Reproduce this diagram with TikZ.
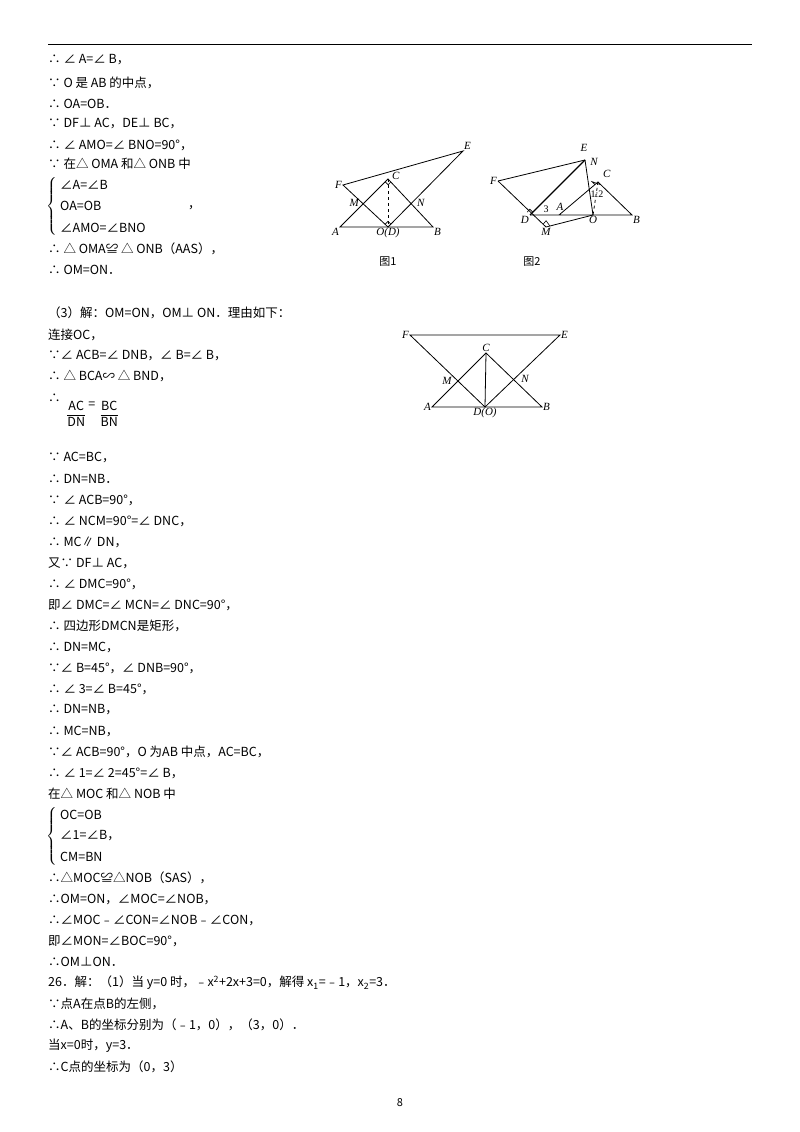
\documentclass[tikz,border=0pt]{standalone}
\usepackage{amsmath}
\usepackage{fontspec}
\setmainfont{Noto Sans CJK SC}
\newfontfamily\lat{Liberation Serif}
\usetikzlibrary{calc}
\begin{document}
\begin{tikzpicture}[x=1pt,y=-1pt,
 t/.style={anchor=west,inner sep=0pt,font=\fontsize{12.5}{14}\selectfont},
 g/.style={line width=0.8pt},
 lb/.style={inner sep=1pt,font=\lat\itshape\fontsize{11}{12}\selectfont},
 captxt/.style={inner sep=0pt,font=\fontsize{11}{12}\selectfont}]
\useasboundingbox (0,0) rectangle (800,1132);
\draw[line width=1pt] (48,45) -- (752,45);
% text lines
\foreach \y/\s in {60/{∴ ∠ A=∠ B，},83/{∵ O 是 AB 的中点，},104/{∴ OA=OB．},124/{∵ DF⊥ AC，DE⊥ BC，},145/{∴ ∠ AMO=∠ BNO=90°，},164/{∵ 在△ OMA 和△ ONB 中},249/{∴ △ OMA≌ △ ONB（AAS），},270/{∴ OM=ON．},
313/{（3）解：OM=ON，OM⊥ ON．理由如下：},335/{连接OC，},356/{∵∠ ACB=∠ DNB，∠ B=∠ B，},376/{∴ △ BCA∽ △ BND，},398/{∴},458/{∵ AC=BC，},479/{∴ DN=NB．},500/{∵ ∠ ACB=90°，},521/{∴ ∠ NCM=90°=∠ DNC，},542/{∴ MC∥ DN，},563/{又∵ DF⊥ AC，},584/{∴ ∠ DMC=90°，},605/{即∠ DMC=∠ MCN=∠ DNC=90°，},626/{∴ 四边形DMCN是矩形，},647/{∴ DN=MC，},668/{∵∠ B=45°，∠ DNB=90°，},689/{∴ ∠ 3=∠ B=45°，},710/{∴ DN=NB，},731/{∴ MC=NB，},752/{∵∠ ACB=90°，O 为AB 中点，AC=BC，},773/{∴ ∠ 1=∠ 2=45°=∠ B，},794/{在△ MOC 和△ NOB 中},878/{∴△MOC≌△NOB（SAS），},899/{∴OM=ON，∠MOC=∠NOB，},920/{∴∠MOC﹣∠CON=∠NOB﹣∠CON，},941/{即∠MON=∠BOC=90°，},962/{∴OM⊥ON．},1004/{∵点A在点B的左侧，},1025/{∴A、B的坐标分别为（﹣1，0），（3，0）．},1046/{当x=0时，y=3．},1067/{∴C点的坐标为（0，3）}}
 \node[t] (l\y) at (48,\y) {\s};
\node[t] (l983) at (48,983) {26．解：（1）当 y=0 时，﹣x\textsuperscript{2}+2x+3=0，解得 x\textsubscript{1}=﹣1，x\textsubscript{2}=3．};
% brace systems
\node[t] (b1) at (46,206) {$\left\{\vphantom{\rule{0pt}{32pt}}\right.$};
\node[t] (b1a) at (60,185) {∠A=∠B};
\node[t] (b1b) at (60,206) {OA=OB};
\node[t] (b1c) at (60,228) {∠AMO=∠BNO};
\node[t] (b1d) at (188,208) {，};
\node[t] (b2) at (46,836) {$\left\{\vphantom{\rule{0pt}{32pt}}\right.$};
\node[t] (b2a) at (60,815) {OC=OB};
\node[t] (b2b) at (60,836) {∠1=∠B，};
\node[t] (b2c) at (60,857) {CM=BN};
% fraction
\node[t] (fr) at (66,414) {$\dfrac{\mathrm{AC}}{\mathrm{DN}}\raisebox{10pt}{\,=\,\,}\dfrac{\mathrm{BC}}{\mathrm{BN}}$};
\node[captxt] (pg) at (400,1103) {8};
% figure 1
\coordinate (A) at (340,227); \coordinate (B) at (433,227); \coordinate (O) at (388,227);
\coordinate (C) at (388,179); \coordinate (F) at (343,185); \coordinate (E) at (463,151);
\draw[g] (A)--(B)--(C)--cycle; \draw[g] (F)--(E)--(O)--cycle;
\draw[g,dashed] (C)--(O);
\draw[line width=0.6pt] ($(C)!4pt!(A)$)--++(3,3)--($(C)!4pt!(B)$);
\draw[line width=0.6pt] ($(O)!4pt!(F)$)--++(3,-3)--($(O)!4pt!(E)$);
\node[lb,left] (lF) at (F) {F}; \node[lb,above right] (lE) at (E) {E};
\node[lb,right] (lC) at (391,176) {C}; \node[lb,left] (lM) at (360,203) {M};
\node[lb,right] (lN) at (416,203) {N}; \node[lb,below left] (lA) at (A) {A};
\node[lb,below] (lO) at (O) {O(D)}; \node[lb,below right] (lB) at (B) {B};
\node[captxt] (c1) at (388,262) {图1}; \node[captxt] (c2) at (532,262) {图2};
% figure 2
\coordinate (D2) at (530,215); \coordinate (B2) at (632,215); \coordinate (O2) at (593,215);
\coordinate (M2) at (546,227); \coordinate (N2) at (585,160); \coordinate (C2) at (598,182);
\coordinate (F2) at (498,181); \coordinate (A2) at (559,215);
\draw[g] (F2)--(N2); \draw[g] (F2)--(M2)--(O2)--(N2); \draw[line width=1.3pt] (D2)--(N2);
\draw[g] (D2)--(B2)--(C2)--(A2);
\draw[g,dashed] (C2)--(O2);
\draw[line width=0.6pt] ($(D2)!4pt!(N2)$)--++(-3,-3)--($(D2)!4pt!(F2)$);
\draw[line width=0.6pt] ($(M2)!4pt!(F2)$)--++(3,-3.5)--($(M2)!4pt!(O2)$);
\draw[line width=0.6pt] ($(C2)!4pt!(A2)$)--++(-3,-3)--($(C2)!4pt!(B2)$);
\node[lb,left] (lF2) at (F2) {F}; \node[lb] (lE2) at (584,148) {E}; \node[lb] (lN2) at (594,162) {N};
\node[lb,right] (lC2) at (602,174) {C}; \node[lb,below left] (lD2) at (D2) {D};
\node[lb,below] (lM2) at (M2) {M}; \node[lb,below] (lO2) at (O2) {O}; \node[lb,below right] (lB2) at (B2) {B};
\node[lb] (lA2) at (560,207) {A}; \node[lb,font=\lat\fontsize{10}{11}\selectfont] (l3) at (546,209) {3};
\node[lb,font=\lat\fontsize{10}{11}\selectfont] (l12) at (597,194) {1:2};
% figure 3
\coordinate (F3) at (410,335); \coordinate (E3) at (560,335); \coordinate (C3) at (486,353);
\coordinate (A3) at (432,407); \coordinate (B3) at (542,407); \coordinate (D3) at (485,407);
\draw[g] (F3)--(E3)--(D3)--cycle; \draw[g] (A3)--(B3)--(C3)--cycle; \draw[g] (C3)--(D3);
\node[lb,left] (lF3) at (F3) {F}; \node[lb,right] (lE3) at (E3) {E}; \node[lb,above] (lC3) at (C3) {C};
\node[lb] (lM3) at (447,381) {M}; \node[lb] (lN3) at (525,379) {N};
\node[lb,left] (lA3) at (A3) {A}; \node[lb,right] (lB3) at (B3) {B}; \node[lb,below] (lD3) at (D3) {D(O)};
\end{tikzpicture}
\end{document}
